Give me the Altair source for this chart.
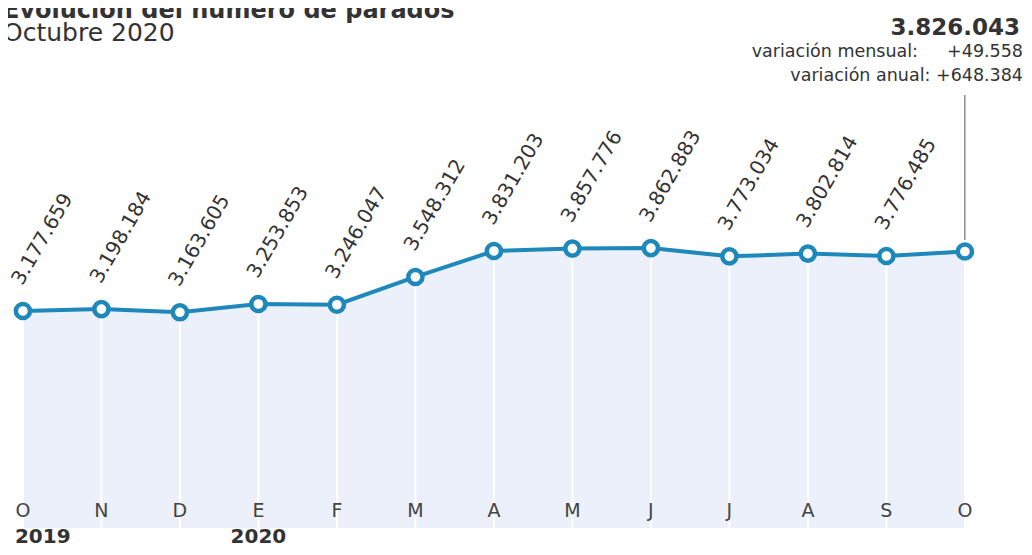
import altair as alt
import pandas as pd

months = ["O", "N", "D", "E", "F", "M", "A", "M", "J", "J", "A", "S", "O"]
parados = [3177659, 3198184, 3163605, 3253853, 3246047, 3548312, 3831203,
           3857776, 3862883, 3773034, 3802814, 3776485, 3826043]
value_labels = ["3.177.659", "3.198.184", "3.163.605", "3.253.853", "3.246.047",
                "3.548.312", "3.831.203", "3.857.776", "3.862.883", "3.773.034",
                "3.802.814", "3.776.485", ""]
years = ["2019", "2020"]
year_month_index = [0, 3]

title_text = "Evolución del número de parados"
subtitle_text = "Octubre 2020"
latest_text = "3.826.043"
mensual_label = "variación mensual:"
mensual_value = "+49.558"
anual_text = "variación anual: +648.384"

W, H = 1016, 539
FONT = "DejaVu Sans"
BLUE = "#1e88bb"
TXT = "#333333"
AREA_BASE = 814000

df = pd.DataFrame({"i": list(range(len(months))), "mes": months,
                   "v": parados, "lab": value_labels})
ydf = pd.DataFrame({"i": year_month_index, "year": years})

xs = alt.Scale(domain=[-0.19, 12.753], nice=False, zero=False)
ys = alt.Scale(domain=[607053, 6478059], nice=False, zero=False)
x = alt.X("i:Q", scale=xs, axis=None)
y = alt.Y("v:Q", scale=ys, axis=None)
y_base = alt.Y2(datum=AREA_BASE)

base = alt.Chart(df)

area = base.mark_area(color="#ecf0fb", opacity=1).encode(x=x, y=y, y2=y_base)
grid = base.mark_rule(color="white", strokeWidth=2).encode(x=x, y=y, y2=y_base)
line = base.mark_line(color=BLUE, strokeWidth=4).encode(x=x, y=y)
pts = base.mark_circle(fill="white", stroke=BLUE, strokeWidth=4.5, size=200,
                       opacity=1, fillOpacity=1).encode(x=x, y=y)
labels = base.transform_filter(alt.datum.lab != "").mark_text(
    angle=300, align="left", baseline="middle", dx=21, dy=-19,
    fontSize=20, font=FONT, color=TXT).encode(x=x, y=y, text="lab:N")
month_txt = base.mark_text(fontSize=19, font=FONT, color="#444444",
                           baseline="alphabetic").encode(x=x, y=alt.value(509), text="mes:N")
pointer = base.transform_filter(alt.datum.i == 12).mark_rule(
    color="#555555", strokeWidth=1).encode(x=x, y=alt.value(87), y2=alt.value(232))

y2019 = alt.Chart(ydf).transform_filter(alt.datum.year == "2019").mark_text(
    align="left", baseline="alphabetic", dx=-8, fontSize=20, fontWeight="bold",
    font=FONT, color=TXT).encode(x=x, y=alt.value(535), text="year:N")
y2020 = alt.Chart(ydf).transform_filter(alt.datum.year == "2020").mark_text(
    align="center", baseline="alphabetic", fontSize=20, fontWeight="bold",
    font=FONT, color=TXT).encode(x=x, y=alt.value(535), text="year:N")


def txt(t, xpix, ypix, size, align="left", weight="normal"):
    return alt.Chart(pd.DataFrame({"t": [t]})).mark_text(
        align=align, baseline="alphabetic", fontSize=size, fontWeight=weight,
        font=FONT, color=TXT).encode(x=alt.value(xpix), y=alt.value(ypix), text="t:N")


t1 = txt(title_text, -5, 10, 24, weight="bold")
t2 = txt(subtitle_text, -5, 33, 25)
t3 = txt(latest_text, 1012, 27, 23, align="right", weight="bold")
t4 = txt(mensual_label, 910, 49, 17.5, align="right")
t5 = txt(mensual_value, 1015, 49, 17.5, align="right")
t6 = txt(anual_text, 1015, 73, 17.5, align="right")

chart = alt.layer(area, grid, line, pts, labels, month_txt, pointer, y2019, y2020,
                  t1, t2, t3, t4, t5, t6).properties(
    width=W, height=H, autosize=alt.AutoSizeParams(type="none"), padding=0,
    background="white"
).configure_view(stroke=None)

chart.save("out.html", embed_options={"renderer": "svg", "actions": False})
